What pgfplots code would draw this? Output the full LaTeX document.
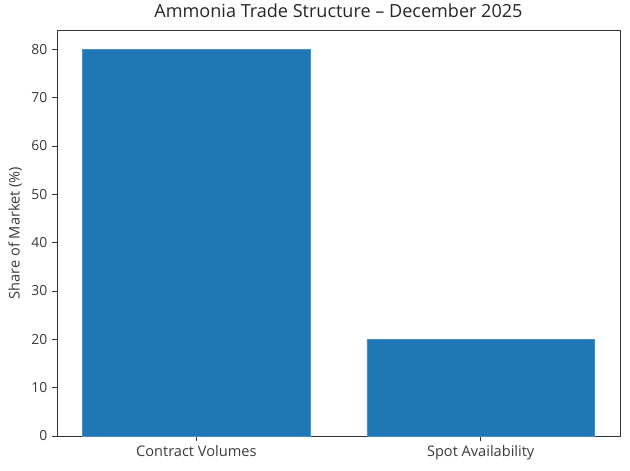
\documentclass[border=0pt]{standalone}
\usepackage{pgfplots}
\pgfplotsset{compat=1.18}
\usepackage{fontspec}
\setmainfont{Open Sans}
\definecolor{barblue}{HTML}{1F77B4}
\definecolor{baredge}{HTML}{4A90C8}
\definecolor{txt}{HTML}{3A3A3A}
\begin{document}
\begin{tikzpicture}
\path[use as bounding box] (-41.04pt,-24.48pt) rectangle (412.56pt,313.92pt);
\begin{axis}[
  at={(0,0)}, anchor=south west,
  scale only axis, width=405.36pt, height=292.32pt,
  xmin=-0.49, xmax=1.49, ymin=0, ymax=84,
  xtick={0,1}, xticklabels={Contract Volumes, Spot Availability},
  ytick={0,10,...,80},
  tick align=outside, tick pos=lower,
  major tick length=3.5pt,
  tick style={black!80, line width=0.6pt},
  axis line style={black!80, line width=0.6pt},
  ticklabel style={font=\fontsize{10.5}{12}\selectfont, text=txt},
  yticklabel style={font=\fontsize{10}{12}\selectfont},
  /pgf/number format/assume math mode=true,
  ylabel={Share of Market (\%)},
  ylabel style={font=\fontsize{10.5}{12}\selectfont, text=txt},
  title={Ammonia Trade Structure – December 2025},
  title style={font=\fontsize{13}{15}\selectfont, text=black!85, yshift=-1pt},
  ybar, bar width=0.8, bar shift=0pt,
]
\addplot[fill=barblue, draw=baredge, line width=0.5pt] coordinates {(0,80) (1,20)};
\end{axis}
\end{tikzpicture}
\end{document}
